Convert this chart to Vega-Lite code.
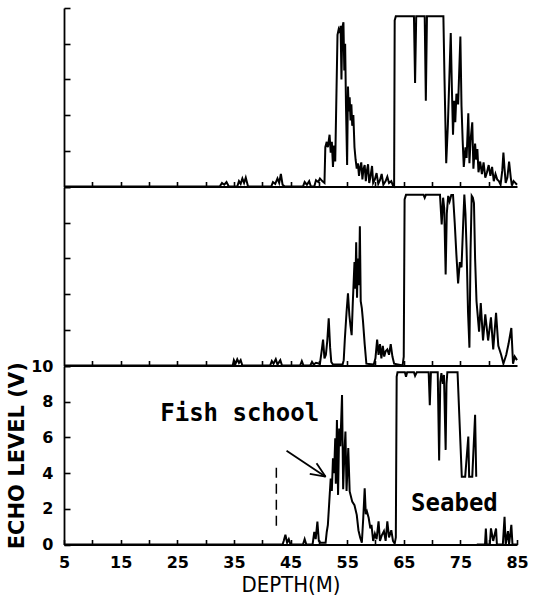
{
  "$schema": "https://vega.github.io/schema/vega-lite/v6.json",
  "padding": {"left": 6, "top": 7, "right": 2, "bottom": 4},
  "spacing": 0,
  "bounds": "flush",
  "config": {
    "view": {"stroke": null},
    "axis": {"grid": false, "domainColor": "black", "domainWidth": 1.8, "tickColor": "black", "tickWidth": 1.6, "labelColor": "black", "titleColor": "black", "labelFont": "DejaVu Sans", "labelFontWeight": "bold", "labelFontSize": 16, "labelOverlap": false, "labelFlush": false},
    "line": {"color": "black", "strokeWidth": 2}
  },
  "datasets": {
    "top": [
      {"d":5,"v":0},{"d":32.5,"v":0},{"d":32.9,"v":0.2},{"d":33.3,"v":0.1},{"d":33.7,"v":0.25},{"d":34.1,"v":0},{"d":35.6,"v":0},{"d":35.9,"v":0.3},{"d":36.2,"v":0.15},{"d":36.5,"v":0.45},{"d":36.8,"v":0.2},{"d":37.1,"v":0.5},{"d":37.5,"v":0},{"d":41.6,"v":0},{"d":41.9,"v":0.25},{"d":42.3,"v":0.15},{"d":42.7,"v":0.45},{"d":43.0,"v":0.2},{"d":43.3,"v":0.7},{"d":43.6,"v":0.1},{"d":44.0,"v":0},{"d":47.2,"v":0},{"d":47.5,"v":0.25},{"d":47.9,"v":0.1},{"d":48.3,"v":0.3},{"d":48.6,"v":0},{"d":49.2,"v":0},{"d":49.5,"v":0.35},{"d":49.9,"v":0.25},{"d":50.2,"v":0.45},{"d":50.6,"v":0.3},{"d":51.0,"v":0.2},
      {"d":51.15,"v":2.2},{"d":51.4,"v":2.5},{"d":51.6,"v":2.2},{"d":51.9,"v":2.9},{"d":52.1,"v":1.9},{"d":52.3,"v":2.5},{"d":52.5,"v":1.1},{"d":52.7,"v":2.3},{"d":52.9,"v":1.4},{"d":53.3,"v":8.5},{"d":53.5,"v":8.8},{"d":53.7,"v":8.6},{"d":53.85,"v":9.0},{"d":54.0,"v":6.0},{"d":54.15,"v":8.9},{"d":54.35,"v":9.2},{"d":54.5,"v":6.5},{"d":54.65,"v":8.0},{"d":54.8,"v":4.5},{"d":55.0,"v":1.2},{"d":55.15,"v":5.6},{"d":55.3,"v":4.2},{"d":55.45,"v":5.0},{"d":55.6,"v":3.7},{"d":55.75,"v":4.6},{"d":55.9,"v":3.4},{"d":56.1,"v":4.0},{"d":56.3,"v":2.2},{"d":56.5,"v":1.5},{"d":56.7,"v":1.0},{"d":56.9,"v":1.3},{"d":57.1,"v":0.6},{"d":57.3,"v":1.1},{"d":57.5,"v":1.35},{"d":57.7,"v":0.4},{"d":57.9,"v":1.0},{"d":58.1,"v":1.2},{"d":58.3,"v":0.3},{"d":58.5,"v":0.9},{"d":58.7,"v":1.25},{"d":58.9,"v":0.2},{"d":59.1,"v":0.5},{"d":59.4,"v":1.15},{"d":59.6,"v":0.2},{"d":59.9,"v":0.4},{"d":60.2,"v":0.75},{"d":60.5,"v":0.15},{"d":60.8,"v":0.35},{"d":61.1,"v":0.7},{"d":61.4,"v":0.1},{"d":61.8,"v":0.3},{"d":62.1,"v":0.55},{"d":62.4,"v":0.2},{"d":62.8,"v":0.3},{"d":63.1,"v":0.05},
      {"d":63.3,"v":0},{"d":63.4,"v":9.3},{"d":63.6,"v":9.54},{"d":66.8,"v":9.54},{"d":67.0,"v":5.8},{"d":67.2,"v":9.54},{"d":68.7,"v":9.54},{"d":68.9,"v":4.8},{"d":69.1,"v":9.54},{"d":72.0,"v":9.54},{"d":72.2,"v":6.0},{"d":72.5,"v":1.3},{"d":72.8,"v":3.5},{"d":73.3,"v":8.6},{"d":73.5,"v":5.5},{"d":73.7,"v":2.9},{"d":73.9,"v":4.8},{"d":74.1,"v":3.6},{"d":74.3,"v":5.2},{"d":74.6,"v":4.6},{"d":75.0,"v":8.4},{"d":75.2,"v":4.5},{"d":75.4,"v":2.6},{"d":75.6,"v":1.1},{"d":75.9,"v":2.2},{"d":76.1,"v":1.6},{"d":76.4,"v":4.1},{"d":76.6,"v":1.3},{"d":76.8,"v":2.6},{"d":77.1,"v":3.6},{"d":77.3,"v":1.0},{"d":77.6,"v":2.4},{"d":77.8,"v":1.5},{"d":78.0,"v":2.1},{"d":78.2,"v":0.8},{"d":78.5,"v":1.4},{"d":78.8,"v":0.7},{"d":79.1,"v":1.35},{"d":79.4,"v":0.5},{"d":79.7,"v":0.8},{"d":80.0,"v":1.2},{"d":80.3,"v":0.6},{"d":80.6,"v":1.1},{"d":80.9,"v":0.3},{"d":81.2,"v":0.7},{"d":81.5,"v":0.4},{"d":81.8,"v":0.3},{"d":82.1,"v":0.1},{"d":82.4,"v":0.9},{"d":82.6,"v":1.9},{"d":82.8,"v":1.0},{"d":83.0,"v":0.2},{"d":83.3,"v":0.5},{"d":83.6,"v":1.4},{"d":83.9,"v":0.5},{"d":84.1,"v":0.05},{"d":84.4,"v":0.3},{"d":84.7,"v":0.2},{"d":85,"v":0.1}
    ],
    "mid": [
      {"d":5,"v":0},{"d":34.8,"v":0},{"d":35.0,"v":0.3},{"d":35.3,"v":0.1},{"d":35.6,"v":0.35},{"d":35.9,"v":0.15},{"d":36.2,"v":0.3},{"d":36.5,"v":0},{"d":41.4,"v":0},{"d":41.7,"v":0.25},{"d":42.0,"v":0.1},{"d":42.4,"v":0.35},{"d":42.7,"v":0.05},{"d":43.2,"v":0.3},{"d":43.5,"v":0},{"d":46.7,"v":0},{"d":47.0,"v":0.25},{"d":47.3,"v":0},{"d":48.5,"v":0},{"d":48.8,"v":0.2},{"d":49.1,"v":0.05},{"d":49.5,"v":0.15},{"d":50.2,"v":0.1},{"d":50.5,"v":0.8},{"d":50.75,"v":1.45},{"d":51.0,"v":0.4},{"d":51.25,"v":0.6},{"d":51.5,"v":1.4},{"d":51.75,"v":2.65},{"d":52.0,"v":1.0},{"d":52.2,"v":0.2},{"d":52.5,"v":0.05},{"d":54.2,"v":0.05},{"d":54.4,"v":0.3},{"d":54.6,"v":1.5},{"d":54.9,"v":3.0},{"d":55.15,"v":4.05},{"d":55.4,"v":2.8},{"d":55.6,"v":2.2},{"d":55.8,"v":1.7},{"d":56.0,"v":3.5},{"d":56.3,"v":5.8},{"d":56.45,"v":4.3},{"d":56.6,"v":6.9},{"d":56.75,"v":3.8},{"d":56.9,"v":6.0},{"d":57.1,"v":4.5},{"d":57.25,"v":7.8},{"d":57.4,"v":3.6},{"d":57.6,"v":3.2},{"d":57.8,"v":2.5},{"d":58.1,"v":1.2},{"d":58.4,"v":0.1},{"d":59.7,"v":0.05},{"d":60.0,"v":0.4},{"d":60.3,"v":1.45},{"d":60.55,"v":0.6},{"d":60.8,"v":1.2},{"d":61.05,"v":0.4},{"d":61.3,"v":1.1},{"d":61.55,"v":0.5},{"d":61.8,"v":0.8},{"d":62.1,"v":0.9},{"d":62.4,"v":0.6},{"d":62.7,"v":1.2},{"d":63.0,"v":0.5},{"d":63.3,"v":0.1},{"d":64.8,"v":0},{"d":65.0,"v":0.5},{"d":65.15,"v":9.3},{"d":65.4,"v":9.56},{"d":68.5,"v":9.56},{"d":68.7,"v":9.4},{"d":68.9,"v":9.56},{"d":71.4,"v":9.56},{"d":71.7,"v":7.9},{"d":71.95,"v":9.4},{"d":72.15,"v":8.8},{"d":72.4,"v":5.1},{"d":72.6,"v":8.5},{"d":72.85,"v":9.5},{"d":73.1,"v":9.2},{"d":73.4,"v":9.55},{"d":73.7,"v":9.55},{"d":74.0,"v":8.0},{"d":74.3,"v":6.2},{"d":74.6,"v":4.6},{"d":74.9,"v":5.8},{"d":75.2,"v":5.5},{"d":75.5,"v":8.0},{"d":75.7,"v":9.58},{"d":75.9,"v":8.5},{"d":76.1,"v":6.5},{"d":76.35,"v":3.0},{"d":76.6,"v":1.0},{"d":76.8,"v":6.5},{"d":77.0,"v":9.5},{"d":77.2,"v":9.4},{"d":77.4,"v":9.1},{"d":77.6,"v":6.0},{"d":77.85,"v":3.6},{"d":78.3,"v":1.9},{"d":78.6,"v":3.5},{"d":79.0,"v":1.4},{"d":79.4,"v":2.86},{"d":79.9,"v":1.4},{"d":80.4,"v":2.7},{"d":80.8,"v":0.9},{"d":81.3,"v":2.95},{"d":81.7,"v":1.1},{"d":82.2,"v":0.6},{"d":82.6,"v":0.1},{"d":83.1,"v":0.6},{"d":83.5,"v":1.2},{"d":84.0,"v":2.1},{"d":84.3,"v":0.1},{"d":84.6,"v":0.5},{"d":85,"v":0.3}
    ],
    "bottom": [
      {"seg":"a","d":5,"v":0},{"seg":"a","d":43.6,"v":0},{"seg":"a","d":43.8,"v":0.2},{"seg":"a","d":44.1,"v":0.55},{"seg":"a","d":44.4,"v":0.1},{"seg":"a","d":44.7,"v":0.3},{"seg":"a","d":45.0,"v":0},{"seg":"a","d":47.2,"v":0},{"seg":"a","d":47.5,"v":0.3},{"seg":"a","d":47.8,"v":0},{"seg":"a","d":48.9,"v":0},{"seg":"a","d":49.2,"v":0.7},{"seg":"a","d":49.45,"v":0.3},{"seg":"a","d":49.75,"v":1.29},{"seg":"a","d":50.0,"v":0.2},{"seg":"a","d":50.3,"v":0.1},{"seg":"a","d":51.2,"v":0.1},{"seg":"a","d":51.4,"v":0.7},{"seg":"a","d":51.6,"v":1.1},{"seg":"a","d":51.85,"v":2.4},{"seg":"a","d":52.1,"v":3.7},{"seg":"a","d":52.3,"v":3.0},{"seg":"a","d":52.5,"v":4.83},{"seg":"a","d":52.7,"v":4.0},{"seg":"a","d":52.9,"v":5.95},{"seg":"a","d":53.0,"v":3.4},{"seg":"a","d":53.2,"v":6.98},{"seg":"a","d":53.4,"v":2.78},{"seg":"a","d":53.6,"v":6.5},{"seg":"a","d":53.8,"v":5.5},{"seg":"a","d":54.1,"v":8.38},{"seg":"a","d":54.3,"v":3.1},{"seg":"a","d":54.5,"v":5.0},{"seg":"a","d":54.7,"v":6.33},{"seg":"a","d":54.9,"v":3.0},{"seg":"a","d":55.2,"v":5.4},{"seg":"a","d":55.45,"v":2.97},{"seg":"a","d":55.9,"v":2.4},{"seg":"a","d":56.3,"v":2.2},{"seg":"a","d":56.7,"v":1.66},{"seg":"a","d":57.0,"v":0.8},{"seg":"a","d":57.3,"v":0.4},{"seg":"a","d":57.6,"v":0.1},{"seg":"a","d":57.85,"v":1.5},{"seg":"a","d":58.1,"v":3.15},{"seg":"a","d":58.3,"v":1.7},{"seg":"a","d":58.5,"v":1.85},{"seg":"a","d":58.8,"v":1.5},{"seg":"a","d":59.1,"v":0.9},{"seg":"a","d":59.3,"v":1.1},{"seg":"a","d":59.6,"v":0.2},{"seg":"a","d":59.9,"v":0.6},{"seg":"a","d":60.2,"v":0.3},{"seg":"a","d":60.55,"v":1.3},{"seg":"a","d":60.8,"v":0.2},{"seg":"a","d":61.1,"v":0.5},{"seg":"a","d":61.5,"v":0.75},{"seg":"a","d":61.8,"v":0.2},{"seg":"a","d":62.1,"v":1.3},{"seg":"a","d":62.4,"v":0.4},{"seg":"a","d":62.8,"v":0.8},{"seg":"a","d":63.1,"v":0.2},{"seg":"a","d":63.4,"v":0.05},{"seg":"a","d":63.6,"v":0.4},{"seg":"a","d":63.75,"v":9.4},{"seg":"a","d":63.9,"v":9.65},{"seg":"a","d":65.2,"v":9.65},{"seg":"a","d":65.4,"v":9.4},{"seg":"a","d":65.6,"v":9.65},{"seg":"a","d":66.8,"v":9.65},{"seg":"a","d":67.0,"v":9.45},{"seg":"a","d":67.3,"v":9.65},{"seg":"a","d":69.4,"v":9.65},{"seg":"a","d":69.6,"v":7.8},{"seg":"a","d":69.8,"v":9.65},{"seg":"a","d":71.0,"v":9.65},{"seg":"a","d":71.25,"v":4.7},{"seg":"a","d":71.45,"v":9.1},{"seg":"a","d":71.65,"v":9.6},{"seg":"a","d":71.9,"v":9.0},{"seg":"a","d":72.1,"v":9.5},{"seg":"a","d":72.4,"v":5.3},{"seg":"a","d":72.55,"v":9.0},{"seg":"a","d":72.7,"v":9.65},{"seg":"a","d":74.5,"v":9.65},{"seg":"a","d":75.25,"v":3.8},{"seg":"a","d":75.85,"v":3.8},{"seg":"a","d":76.4,"v":6.05},{"seg":"a","d":76.55,"v":3.8},{"seg":"a","d":77.1,"v":3.8},{"seg":"a","d":77.6,"v":7.27},{"seg":"a","d":77.8,"v":3.8},
      {"seg":"b","d":77.9,"v":0},{"seg":"b","d":79.35,"v":0},{"seg":"b","d":79.5,"v":0.9},{"seg":"b","d":79.65,"v":0},{"seg":"b","d":80.2,"v":0},{"seg":"b","d":80.4,"v":0.9},{"seg":"b","d":80.8,"v":0.2},{"seg":"b","d":81.3,"v":0.9},{"seg":"b","d":81.45,"v":0},{"seg":"b","d":82.5,"v":0},{"seg":"b","d":82.8,"v":1.55},{"seg":"b","d":83.0,"v":0},{"seg":"b","d":83.4,"v":0.75},{"seg":"b","d":83.6,"v":0},{"seg":"b","d":84.0,"v":1.1},{"seg":"b","d":84.2,"v":0},{"seg":"b","d":85,"v":0}
    ],
    "dash": [{"d":42.5,"v":4.3,"v2":0.9}],
    "arrow": [
      {"d":44.3,"v":5.25,"d2":51.2,"v2":3.8},
      {"d":48.4,"v":3.96,"d2":51.2,"v2":3.8},
      {"d":49.6,"v":4.55,"d2":51.2,"v2":3.8}
    ],
    "notes": [
      {"d":22.0,"v":6.9,"t":"Fish school"},
      {"d":66.3,"v":1.85,"t":"Seabed"}
    ]
  },
  "vconcat": [
    {
      "width": 453, "height": 178.5,
      "data": {"name": "top"},
      "mark": {"type": "line"},
      "encoding": {
        "x": {"field": "d", "type": "quantitative", "scale": {"domain": [5, 85], "nice": false, "zero": false},
              "axis": {"values": [10,15,20,25,30,35,40,45,50,55,60,65,70,75,80], "labels": false, "tickSize": -5, "title": null}},
        "y": {"field": "v", "type": "quantitative", "scale": {"domain": [0, 10], "nice": false},
              "axis": {"values": [0,2,4,6,8,10], "labels": false, "tickSize": -6, "title": null}}
      }
    },
    {
      "width": 453, "height": 178.5,
      "data": {"name": "mid"},
      "mark": {"type": "line"},
      "encoding": {
        "x": {"field": "d", "type": "quantitative", "scale": {"domain": [5, 85], "nice": false, "zero": false},
              "axis": {"values": [10,15,20,25,30,35,40,45,50,55,60,65,70,75,80], "labels": false, "tickSize": -5, "title": null}},
        "y": {"field": "v", "type": "quantitative", "scale": {"domain": [0, 10], "nice": false},
              "axis": {"values": [0,2,4,6,8,10], "labels": false, "tickSize": -6, "title": null}}
      }
    },
    {
      "width": 453, "height": 178.5,
      "encoding": {
        "x": {"field": "d", "type": "quantitative", "title": "DEPTH(M)", "scale": {"domain": [5, 85], "nice": false, "zero": false},
              "axis": {"values": [5,10,15,20,25,30,35,40,45,50,55,60,65,70,75,80,85], "labelExpr": "datum.value % 10 == 5 ? datum.label : ''", "tickSize": -5, "labelPadding": 15, "labelOverlap": false, "titleFont": "Liberation Sans Narrow, DejaVu Sans Condensed, sans-serif", "titleFontSize": 22, "titleFontWeight": "normal", "titlePadding": 4}},
        "y": {"field": "v", "type": "quantitative", "title": "ECHO LEVEL (V)", "scale": {"domain": [0, 10], "nice": false},
              "axis": {"values": [0,2,4,6,8,10], "labelExpr": "datum.label", "tickSize": -6, "labelPadding": 17, "labelOverlap": false, "titleFont": "DejaVu Sans", "titleFontSize": 21, "titleFontWeight": "bold", "titlePadding": 3}}
      },
      "layer": [
        {
          "data": {"name": "bottom"},
          "mark": {"type": "line"},
          "encoding": {"detail": {"field": "seg"}}
        },
        {
          "data": {"name": "dash"},
          "mark": {"type": "rule", "strokeDash": [10, 6], "strokeWidth": 1.5, "color": "black"},
          "encoding": {"y2": {"field": "v2"}}
        },
        {
          "data": {"name": "arrow"},
          "mark": {"type": "rule", "strokeWidth": 1.8, "color": "black"},
          "encoding": {"x2": {"field": "d2"}, "y2": {"field": "v2"}}
        },
        {
          "data": {"name": "notes"},
          "mark": {"type": "text", "font": "DejaVu Sans Mono", "fontSize": 24, "fontWeight": "bold", "align": "left", "baseline": "alphabetic", "color": "black"},
          "encoding": {"text": {"field": "t"}}
        }
      ]
    }
  ]
}
